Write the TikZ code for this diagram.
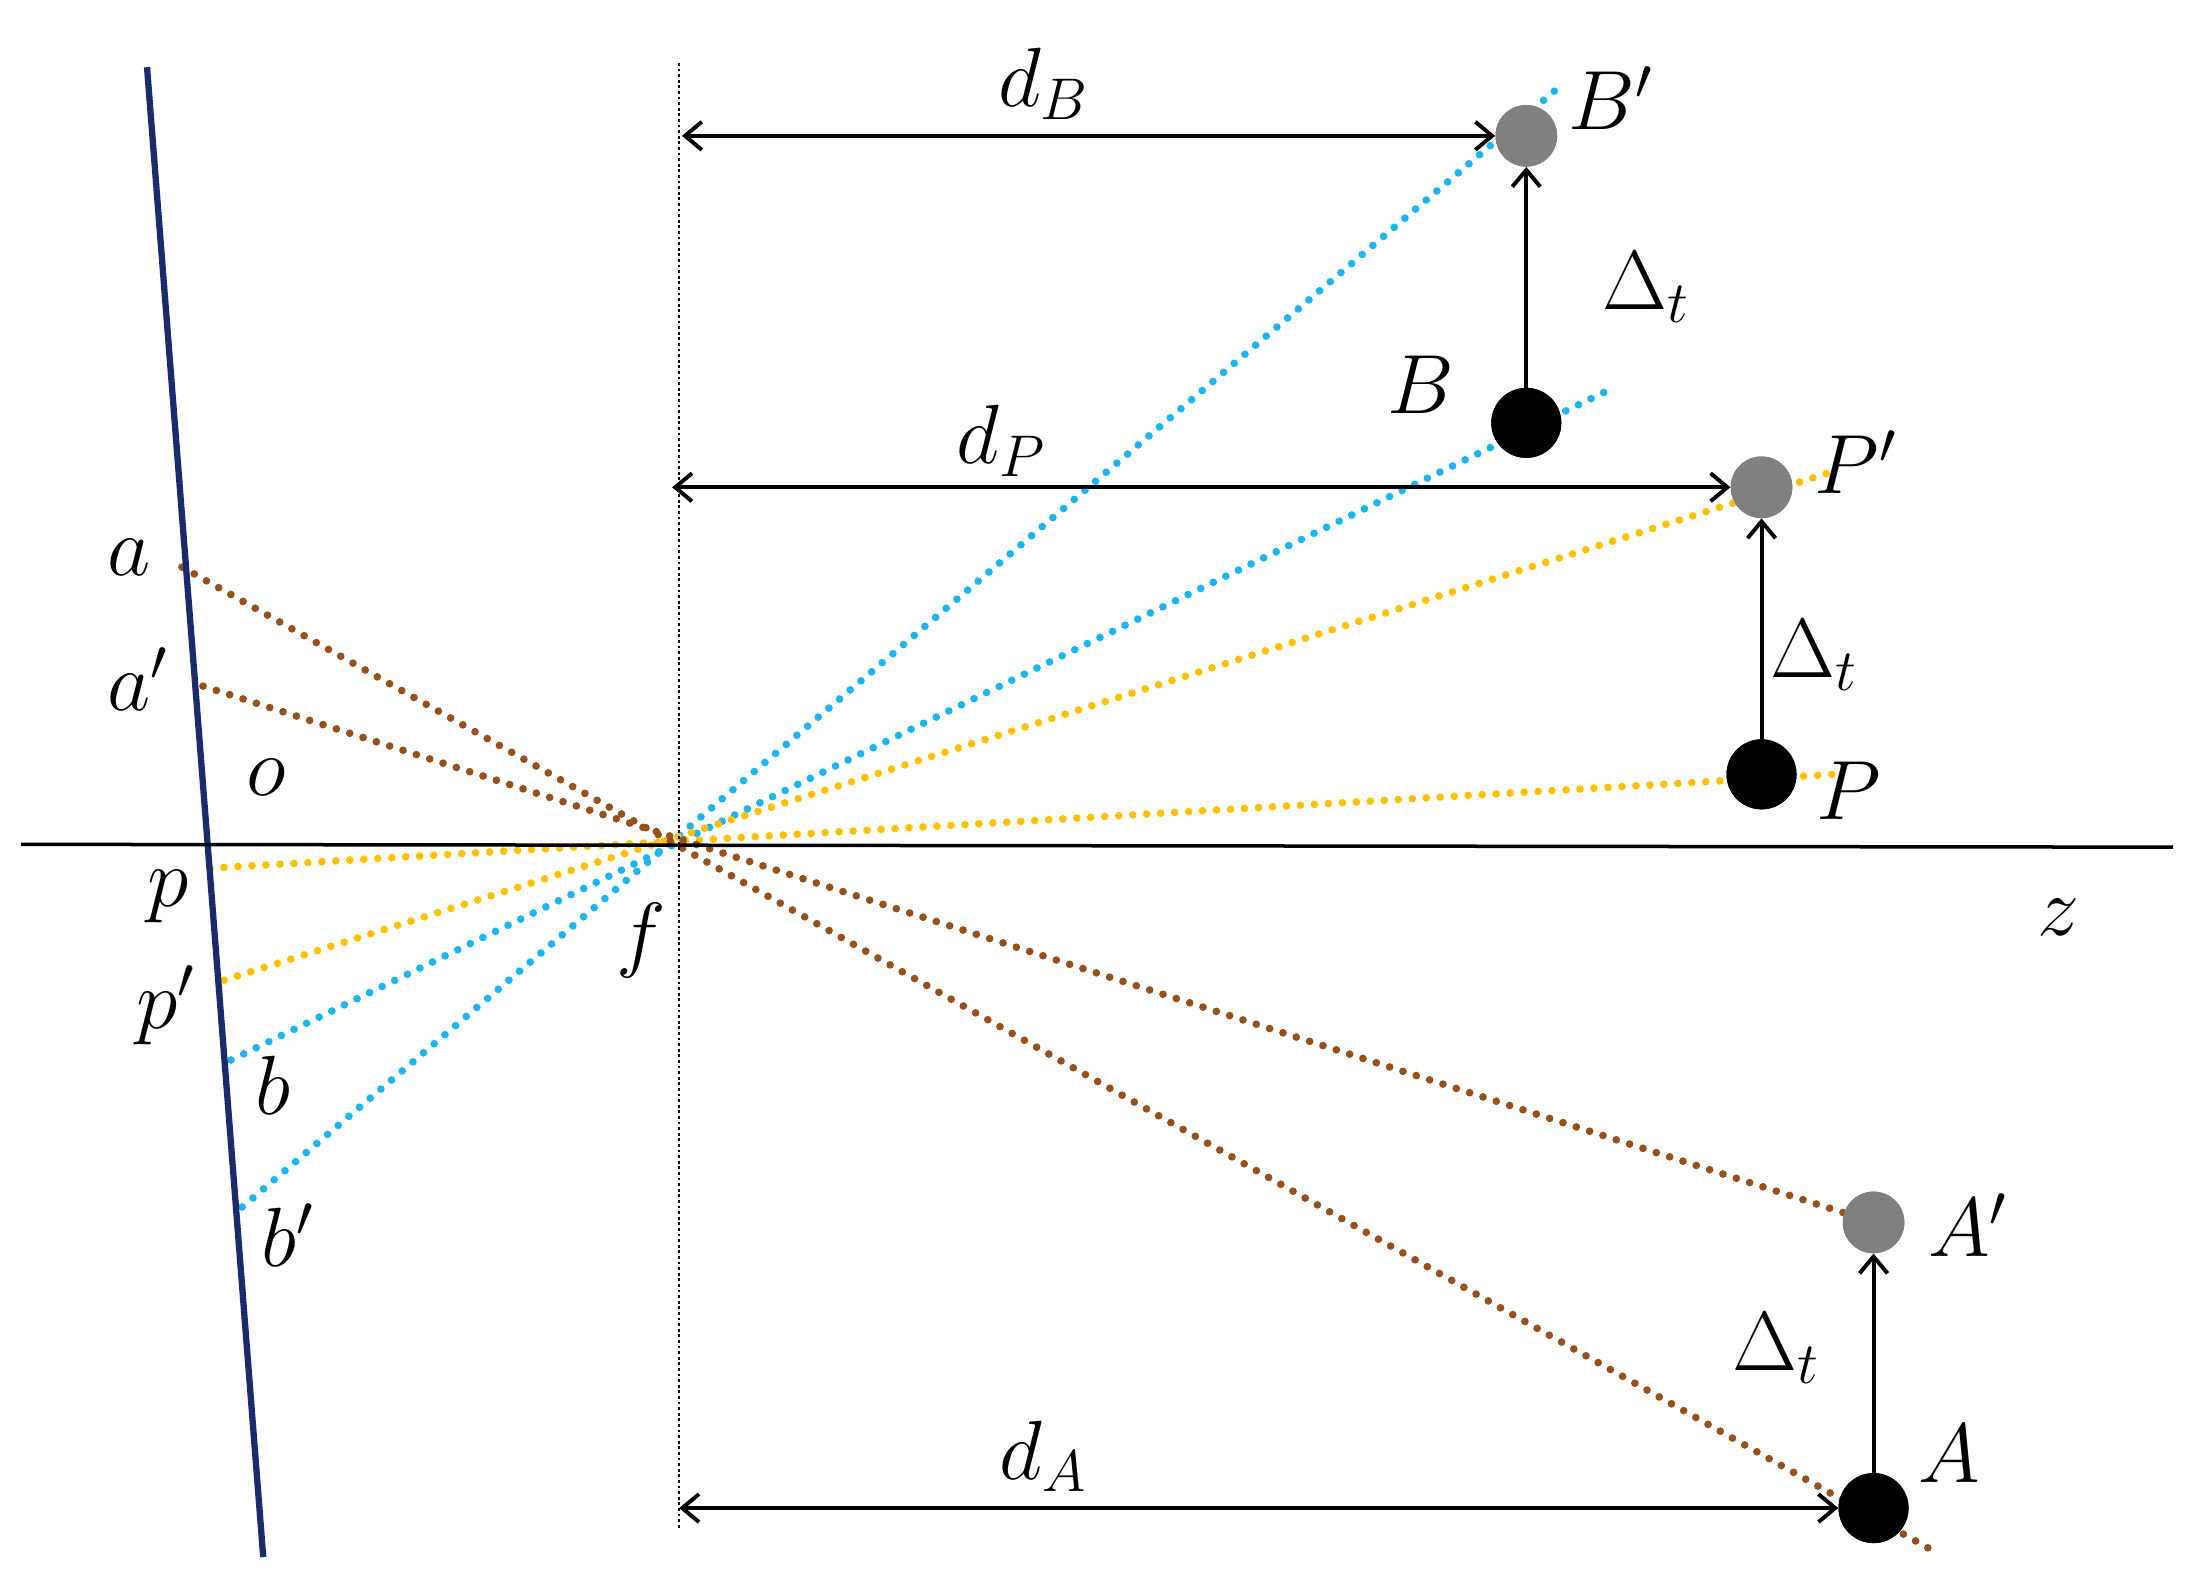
\RequirePackage{fix-cm}
\documentclass[tikz,border=0pt]{standalone}
\usetikzlibrary{arrows.meta}
\DeclareMathSizes{60}{60}{42}{30}
\begin{document}
\begin{tikzpicture}[x=1pt,y=-1pt,
  ray/.style={line width=5.5pt,dash pattern=on 0pt off 10pt,line cap=round},
  dim/.style={line width=2.8pt,{Straight Barb[length=12pt,width=20pt]}-{Straight Barb[length=12pt,width=20pt]}},
  up/.style={line width=2.8pt,-{Straight Barb[length=12pt,width=20pt]}},
  pt/.style={circle,fill=black,minimum size=50pt,inner sep=0},
  gp/.style={circle,fill=gray,minimum size=44pt,inner sep=0},
  lab/.style={font=\fontsize{60}{60}\selectfont}]
\useasboundingbox (0,0) rectangle (1564,1131);
\definecolor{rb}{HTML}{1CB5F0}\definecolor{ry}{HTML}{FFC000}\definecolor{rr}{HTML}{96501E}\definecolor{nv}{HTML}{1A2A6C}
\coordinate (s1) at (105,48); \coordinate (s2) at (188,1112);
\coordinate (f) at (485,603);
\coordinate (v1) at (485,45); \coordinate (v2) at (485,1092);
\coordinate (z1) at (15,603); \coordinate (z2) at (1552,605);
\node[gp] (Bp) at (1090,97) {}; \node[pt] (B) at (1090,302) {};
\node[gp] (Pp) at (1258,348) {}; \node[pt] (P) at (1258,553) {};
\node[gp] (Ap) at (1338,873) {}; \node[pt] (A) at (1338,1077) {};
\coordinate (b') at (173,862); \coordinate (eb') at (1116,60);
\coordinate (b) at (165,757); \coordinate (eb) at (1150,278);
\coordinate (p') at (160,700); \coordinate (ep') at (1305,338);
\coordinate (p) at (150,620); \coordinate (ep) at (1310,553);
\coordinate (a) at (130,405); \coordinate (ea) at (1385,1110);
\coordinate (a') at (145,490); \coordinate (ea') at (1360,880);
\draw[ray,rb] (b') -- (eb'); \draw[ray,rb] (b) -- (eb);
\draw[ray,ry] (p') -- (ep'); \draw[ray,ry] (p) -- (ep);
\draw[ray,rr] (a) -- (ea); \draw[ray,rr] (a') -- (ea');
\node[gp] at (Bp) {}; \node[pt] at (B) {}; \node[gp] at (Pp) {};
\node[pt] at (P) {}; \node[gp] at (Ap) {}; \node[pt] at (A) {};
\draw[nv,line width=4.5pt] (s1) -- (s2);
\draw[line width=1.8pt,dash pattern=on 2pt off 2pt] (v1) -- (v2);
\draw[line width=2.5pt] (z1) -- (z2);
\coordinate (dB1) at (487,97); \coordinate (dP1) at (480,348); \coordinate (dA1) at (485,1077);
\draw[dim] (dB1) -- (Bp.west); \draw[dim] (dP1) -- (Pp.west); \draw[dim] (dA1) -- (A.west);
\draw[up] (B.north) -- (Bp.south); \draw[up] (P.north) -- (Pp.south); \draw[up] (A.north) -- (Ap.south);
\node[lab] (ldB) at (745,60) {$d_B$};
\node[lab] (lt1) at (1175,205) {$\Delta_t$};
\node[lab] (lB) at (1015,275) {$B$};
\node[lab] (lBp) at (1150,70) {$B'$};
\node[lab] (ldP) at (715,315) {$d_P$};
\node[lab] (lPp) at (1325,330) {$P'$};
\node[lab] (lt2) at (1295,468) {$\Delta_t$};
\node[lab] (lP) at (1320,565) {$P$};
\node[lab] (lAp) at (1405,875) {$A'$};
\node[lab] (lt3) at (1268,963) {$\Delta_t$};
\node[lab] (lA) at (1392,1038) {$A$};
\node[lab] (ldA) at (745,1040) {$d_A$};
\node[lab] (la) at (92,398) {$a$};
\node[lab] (la') at (98,485) {$a'$};
\node[lab] (lo) at (190,555) {$o$};
\node[lab] (lp) at (120,640) {$p$};
\node[lab] (lp') at (118,718) {$p'$};
\node[lab] (lb) at (195,775) {$b$};
\node[lab] (lb') at (205,882) {$b'$};
\node[lab] (lf) at (458,672) {$f$};
\node[lab] (lz) at (1470,655) {$z$};
\end{tikzpicture}
\end{document}
